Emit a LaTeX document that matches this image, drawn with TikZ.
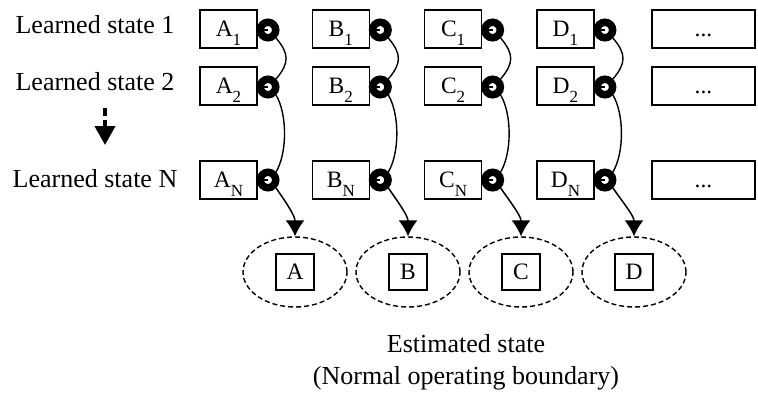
\documentclass[tikz,border=0pt]{standalone}
\usepackage{fontspec}
\setmainfont{Liberation Serif}
\usetikzlibrary{shapes.geometric,arrows.meta}
% state name with a lowered index that does not change the box height
\newcommand\statename[2]{#1\smash{\raisebox{-9pt}{\fontsize{17}{18}\selectfont #2}}}
% ellipsis sitting on the same baseline as the state names
\newcommand\moredots{\vphantom{A}...}
\begin{document}
\begin{tikzpicture}[x=1pt,y=-1pt,
  every node/.style={font=\fontsize{26}{29}\selectfont},
  boxfont/.style={font=\fontsize{23.5}{26}\selectfont},
  statebox/.style={draw,boxfont,line width=1.4pt,minimum width=57pt,minimum height=38pt,inner sep=0pt},
  dotsbox/.style={draw,boxfont,line width=1.4pt,minimum width=103pt,minimum height=38pt,inner sep=0pt},
  ringnode/.style={circle,draw=black,line width=7.5pt,fill=white,minimum size=15.5pt,inner sep=0pt,
    path picture={
      \draw[black,line width=2pt] ([xshift=-5pt]path picture bounding box.center) -- (path picture bounding box.center);
    }},
  link/.style={line width=1.4pt},
  flow/.style={line width=1.5pt,-{Latex[length=16pt,width=19pt]}},
  region/.style={draw,ellipse,dash pattern=on 5pt off 3pt,line width=1.4pt,minimum width=104pt,minimum height=70pt},
  estbox/.style={draw,boxfont,line width=1.4pt,minimum width=38pt,minimum height=36pt,inner sep=0pt},
  rowlabel/.style={anchor=base,inner sep=0pt}
]
\useasboundingbox (0,0) rectangle (758,392);

% row labels
\node[rowlabel] (l1) at (95,33) {Learned state 1};
\node[rowlabel] (l2) at (95,90) {Learned state 2};
\node[rowlabel] (ln) at (95,187) {Learned state N};

% vertical "and so on" arrow
\coordinate (d0) at (105,108);
\coordinate (d1) at (105,145);
\draw[line width=4pt,dash pattern=on 8pt off 4pt,-{Triangle[length=19pt,width=20pt]}] (d0) -- (d1);

% learned states per column, with their rings
\foreach \c/\L/\ex [count=\i from 0] in {a/A/295,b/B/408,c/C/521,d/D/634}{
  \pgfmathsetmacro\bx{228.5+112.3*\i}
  \pgfmathsetmacro\rx{\bx+39.5}
  \node[statebox] (\c1) at (\bx,29) {\statename{\L}{1}};
  \node[statebox] (\c2) at (\bx,86) {\statename{\L}{2}};
  \node[statebox] (\c3) at (\bx,180) {\statename{\L}{N}};
  \node[ringnode] (\c1r) at (\rx,30) {};
  \node[ringnode] (\c2r) at (\rx,87) {};
  \node[ringnode] (\c3r) at (\rx,180) {};
  \draw[link] (\c1r.-45) to[out=-50,in=50,looseness=1.3] (\c2r.45);
  \draw[link] (\c2r.-45) to[out=-60,in=60,looseness=0.75] (\c3r.45);
  \node[region] (\c e) at (\ex,272) {};
  \node[estbox] (\c s) at (\ex,272) {\L};
  \draw[flow] (\c3r.-45) to[out=-55,in=90] (\c e.north);
}

% remaining columns
\node[dotsbox] (e1) at (703.5,29) {\moredots};
\node[dotsbox] (e2) at (703.5,86) {\moredots};
\node[dotsbox] (e3) at (703.5,180) {\moredots};

% caption of the estimated states
\node[rowlabel] (cap1) at (466,352) {Estimated state};
\node[rowlabel] (cap2) at (466,384) {(Normal operating boundary)};
\end{tikzpicture}
\end{document}
